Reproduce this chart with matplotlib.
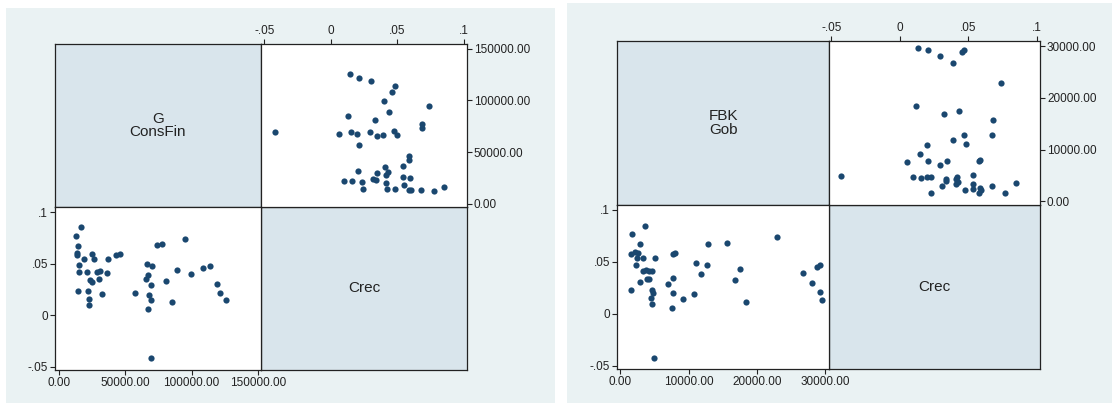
import matplotlib
matplotlib.use("Agg")
import matplotlib.pyplot as plt
from matplotlib.patches import Rectangle

plt.rcParams['font.family'] = ['Liberation Sans', 'DejaVu Sans']

# left matrix: G / ConsFin vs Crec
g_consfin = [12860, 16390, 13870, 13360, 13360, 14620, 14880, 18660, 20680, 24960,
             26470, 28490, 23450, 24460, 30760, 30260, 14120, 21680, 22690, 22690,
             32270, 35800, 37060, 42610, 45890, 56990, 66310, 67070, 70350, 65810,
             69080, 67820, 69590, 67320, 69590, 73880, 77410, 80940, 84970, 89260,
             95060, 99600, 108420, 113720, 119010, 121280, 125820]
crec_1 = [0.0774, 0.0855, 0.0677, 0.0603, 0.0587, 0.0483, 0.0424, 0.0548, 0.0418, 0.0593,
          0.0544, 0.0415, 0.0343, 0.0318, 0.0434, 0.0350, 0.0240, 0.0233, 0.0162, 0.0097,
          0.0204, 0.0408, 0.0544, 0.0587, 0.0590, 0.0211, 0.0496, 0.0395, 0.0476, 0.0350,
          0.0298, 0.0198, 0.0149, 0.0062, -0.0418, 0.0684, 0.0690, 0.0331, 0.0126, 0.0441,
          0.0742, 0.0399, 0.0463, 0.0480, 0.0301, 0.0214, 0.0143]

# right matrix: FBK / Gob vs Crec
fbk_gob = [1661, 3615, 1563, 2198, 2589, 2882, 2247, 2442, 3371, 5129,
           1612, 2882, 3322, 3713, 4250, 4690, 3859, 4250, 4641, 4788,
           4494, 4641, 4934, 7035, 7719, 7768, 7572, 7768, 7963, 9233,
           10845, 11138, 11871, 12799, 12750, 15682, 16805, 17489, 18368, 22912,
           26771, 28139, 28823, 29311, 29213, 29604]
crec_2 = [0.0769, 0.0849, 0.0577, 0.0593, 0.0583, 0.0670, 0.0474, 0.0535, 0.0535, 0.0538,
          0.0231, 0.0311, 0.0410, 0.0426, 0.0413, 0.0417, 0.0337, 0.0340, 0.0228, 0.0202,
          0.0157, 0.0093, -0.0426, 0.0292, 0.0343, 0.0205, 0.0054, 0.0580, 0.0583, 0.0144,
          0.0196, 0.0487, 0.0388, 0.0676, 0.0471, 0.0683, 0.0324, 0.0436, 0.0119, 0.0737,
          0.0391, 0.0295, 0.0455, 0.0471, 0.0208, 0.0135]

crec_ticks = [-0.05, 0, 0.05, 0.1]
crec_labels = ['-.05', '0', '.05', '.1']
g_ticks = [0, 50000, 100000, 150000]
fbk_ticks = [0, 10000, 20000, 30000]

W, H = 1112, 403
BG = '#eaf2f3'
DIAG = '#d9e5ec'
DOT = '#1a476f'

fig = plt.figure(figsize=(W / 100, H / 100), dpi=100)
fig.patch.set_facecolor('white')
fig.patches.append(Rectangle((6 / W, 0), 549 / W, 395 / H, transform=fig.transFigure,
                             facecolor=BG, edgecolor='none', zorder=-5))
fig.patches.append(Rectangle((567 / W, 0), 545 / W, 400 / H, transform=fig.transFigure,
                             facecolor=BG, edgecolor='none', zorder=-5))


def box(x0, y0, x1, y1):
    return fig.add_axes([x0 / W, 1 - y1 / H, (x1 - x0) / W, (y1 - y0) / H])


def style(ax):
    for s in ax.spines.values():
        s.set_linewidth(0.9)
        s.set_color('#222222')
    ax.tick_params(length=3.5, width=0.8, labelsize=8.5, pad=1.5, colors='#222222')


def diag(ax, text):
    ax.set_facecolor(DIAG)
    ax.set_xticks([])
    ax.set_yticks([])
    style(ax)
    ax.text(0.5, 0.5, text, ha='center', va='center', fontsize=11,
            linespacing=0.95, color='#222222', transform=ax.transAxes)


def matrix(x0, xm, x1, y0, ym, y1, name, vals, crec, ticks,
           bl_xlim, bl_ylim, tr_xlim, tr_ylim):
    diag(box(x0, y0, xm, ym), name)
    diag(box(xm, ym, x1, y1), 'Crec')

    tr = box(xm, y0, x1, ym)
    tr.scatter(crec, vals, s=20, color=DOT, linewidths=0)
    tr.set_xlim(tr_xlim)
    tr.set_ylim(tr_ylim)
    tr.set_xticks(crec_ticks, crec_labels)
    tr.set_yticks(ticks, ['%.2f' % t for t in ticks])
    tr.xaxis.tick_top()
    tr.yaxis.tick_right()
    style(tr)

    bl = box(x0, ym, xm, y1)
    bl.scatter(vals, crec, s=20, color=DOT, linewidths=0)
    bl.set_xlim(bl_xlim)
    bl.set_ylim(bl_ylim)
    bl.set_xticks(ticks, ['%.2f' % t for t in ticks])
    bl.set_yticks(crec_ticks, crec_labels)
    style(bl)


matrix(55, 261, 467, 44, 207, 370, 'G\nConsFin', g_consfin, crec_1, g_ticks,
       (-3250, 152500), (-0.0532, 0.1051), (-0.0525, 0.1025), (-2900, 154540))
matrix(617, 829, 1040, 41, 205, 369, 'FBK\nGob', fbk_gob, crec_2, fbk_ticks,
       (-484, 30586), (-0.0529, 0.1048), (-0.0517, 0.1024), (-716, 31026))

fig.savefig('out.png', dpi=100, facecolor=fig.get_facecolor())
